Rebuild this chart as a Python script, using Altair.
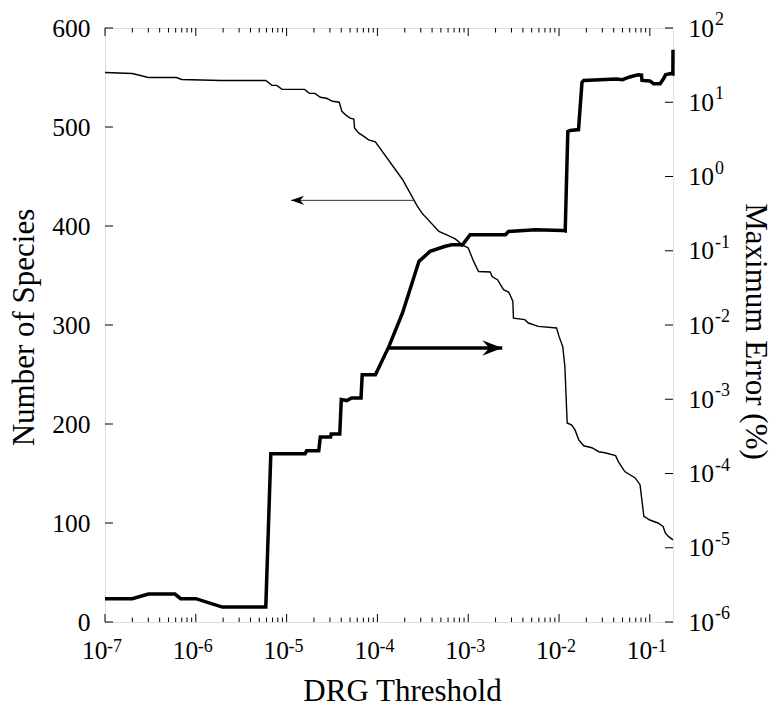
import altair as alt
import pandas as pd

# ---------------- data ----------------
species_x = [1e-7, 2e-7, 3e-7, 6.1e-7, 7e-7, 1.9e-6, 5.9e-6, 6.9e-6, 7.8e-6, 8.9e-6,
             1.58e-5, 1.78e-5, 2.05e-5, 2.35e-5, 2.75e-5, 3.2e-5, 3.8e-5, 4.06e-5, 4.5e-5,
             5.0e-5, 5.5e-5, 5.6e-5, 6.2e-5, 7.1e-5, 8.0e-5, 9.5e-5, 1.89e-4, 2.75e-4,
             3.1e-4, 4.76e-4, 5.8e-4, 7.2e-4, 8.6e-4, 1.0e-3, 1.15e-3, 1.3e-3, 1.75e-3,
             1.83e-3, 2.1e-3, 2.45e-3, 2.8e-3, 3.1e-3, 3.15e-3, 4.2e-3, 4.6e-3, 5.9e-3,
             9.4e-3, 1.0e-2, 1.1e-2, 1.16e-2, 1.23e-2, 1.38e-2, 1.5e-2, 1.65e-2, 1.87e-2,
             2.3e-2, 2.74e-2, 3.2e-2, 4.2e-2, 4.5e-2, 5.3e-2, 6.9e-2, 7.8e-2, 8.6e-2,
             1.0e-1, 1.23e-1, 1.4e-1, 1.48e-1, 1.6e-1, 0.18]
species_n = [555, 554, 550, 550, 548, 547, 547, 542, 542, 538,
             538, 534, 534, 530, 529, 526, 525, 515.8, 512,
             509, 508, 499, 494, 490.5, 487, 485, 447, 420,
             413, 394.5, 391, 387, 381, 377.8, 364, 354, 353.5,
             349, 345.8, 335.7, 333, 324, 307, 305.4, 302, 298.6,
             297, 288.5, 278, 258, 201, 199, 194, 184, 178,
             176, 172, 171, 168, 162, 152, 145.5, 138.7, 106.7,
             103, 100, 96.5, 90, 86.5, 83]

error_x = [1e-7, 2e-7, 3e-7, 5.9e-7, 6.8e-7, 1.0e-6, 1.96e-6, 5.9e-6, 6.7e-6, 1.6e-5,
           1.66e-5, 2.26e-5, 2.35e-5, 3.05e-5, 3.1e-5, 3.85e-5, 4.0e-5, 4.6e-5, 5.2e-5,
           6.6e-5, 6.8e-5, 9.5e-5, 1.34e-4, 1.89e-4, 2.87e-4, 3.8e-4, 5.6e-4, 6.6e-4,
           8.2e-4, 8.6e-4, 1.05e-3, 2.57e-3, 2.78e-3, 5.5e-3, 1.09e-2, 1.17e-2, 1.25e-2,
           1.33e-2, 1.64e-2, 1.79e-2, 1.87e-2, 4.3e-2, 5.0e-2, 6.0e-2, 7.4e-2, 8.1e-2,
           8.2e-2, 1.0e-1, 1.1e-1, 1.3e-1, 1.43e-1, 1.49e-1, 1.69e-1, 0.1795, 0.18]
error_pct = [2.06e-6, 2.06e-6, 2.38e-6, 2.38e-6, 2.06e-6, 2.06e-6, 1.59e-6, 1.59e-6, 1.85e-4, 1.85e-4,
             2.03e-4, 2.03e-4, 3.1e-4, 3.1e-4, 3.4e-4, 3.4e-4, 9.9e-4, 9.6e-4, 1.04e-3,
             1.04e-3, 2.14e-3, 2.14e-3, 5.15e-3, 1.45e-2, 7.2e-2, 9.8e-2, 0.115, 0.12,
             0.12, 0.119, 0.164, 0.164, 0.182, 0.192, 0.188, 0.185, 4.05,
             4.17, 4.28, 18.5, 19.7, 20.6, 20.1, 21.9, 23.5, 23.2,
             19.7, 19.4, 17.8, 17.8, 21.2, 23.5, 24.3, 24.0, 51]

# arrows (data coordinates: x threshold, y in species units)
thin_arrow_from, thin_arrow_to, thin_arrow_y = 2.53e-4, 1.12e-5, 425.9
thick_arrow_from, thick_arrow_to, thick_arrow_y = 1.29e-4, 2.37e-3, 276.8

# ticks and tick labels
x_major = [1e-7, 1e-6, 1e-5, 1e-4, 1e-3, 1e-2, 1e-1]
x_major_exp = ["-7", "-6", "-5", "-4", "-3", "-2", "-1"]
x_minor = [m * d for d in x_major for m in range(2, 10) if m * d <= 0.18]
y_left_ticks = [0, 100, 200, 300, 400, 500, 600]
y_right_ticks = [1e-6, 1e-5, 1e-4, 1e-3, 1e-2, 1e-1, 1e0, 1e1, 1e2]
y_right_exp = ["-6", "-5", "-4", "-3", "-2", "-1", "0", "1", "2"]

# ---------------- layout / style ----------------
W, H = 568, 594
FONT = "Liberation Serif"
TICK_FS, EXP_FS, TITLE_FS = 25.5, 18, 31
MAJ, MIN = 8, 4.5

xscale = alt.Scale(type="log", domain=[1e-7, 0.18], nice=False)
yscale_n = alt.Scale(domain=[0, 600], nice=False, zero=False)
yscale_e = alt.Scale(type="log", domain=[1e-6, 1e2], nice=False)

common = dict(ticks=False, domain=False, grid=False, labelFont=FONT, labelFontSize=TICK_FS,
              labelColor="black", titleColor="black", labelOverlap=False, labelFlush=False,
              titleFont=FONT, titleFontSize=TITLE_FS, titleFontWeight="normal",
              titleBaseline="alphabetic", titleAlign="center")
xaxis = alt.Axis(title="DRG Threshold", values=x_major, labelExpr="'10'", labelAlign="right",
                 labelOffset=2, labelPadding=16, titleX=W / 2 + 13, titleY=78, **common)
ylaxis = alt.Axis(title="Number of Species", values=y_left_ticks, format="d", labelPadding=15,
                  titleAngle=-90, titleX=-72, titleY=H / 2 + 2, **common)
yraxis = alt.Axis(title="Maximum Error (%)", orient="right", values=y_right_ticks,
                  labelExpr="'10'", labelPadding=15, titleAngle=90, titleX=72, titleY=H / 2 + 6,
                  **common)

df_species = pd.DataFrame({"x": species_x, "n": species_n, "i": range(len(species_x))})
df_error = pd.DataFrame({"x": error_x, "e": error_pct, "i": range(len(error_x))})
df_xmaj = pd.DataFrame({"x": x_major, "exp": x_major_exp})
df_xmin = pd.DataFrame({"x": x_minor})
df_yl = pd.DataFrame({"y": y_left_ticks})
df_yr = pd.DataFrame({"y": y_right_ticks, "exp": y_right_exp})


def X(f="x"):
    return alt.X(f"{f}:Q", scale=xscale, axis=xaxis)


def YN(f="y"):
    return alt.Y(f"{f}:Q", scale=yscale_n, axis=ylaxis)


def YE(f="y"):
    return alt.Y(f"{f}:Q", scale=yscale_e, axis=yraxis)


rule = dict(color="black", strokeWidth=1)

# --- species (left axis) group ---
species_line = alt.Chart(df_species).mark_line(color="black", strokeWidth=1.4).encode(
    x=X(), y=YN("n"), order="i:Q")

xt_bot_maj = alt.Chart(df_xmaj).mark_rule(**rule).encode(x=X(), y=alt.value(H), y2=alt.value(H - MAJ))
xt_top_maj = alt.Chart(df_xmaj).mark_rule(**rule).encode(x=X(), y=alt.value(0), y2=alt.value(MAJ))
xt_bot_min = alt.Chart(df_xmin).mark_rule(**rule).encode(x=X(), y=alt.value(H), y2=alt.value(H - MIN))
xt_top_min = alt.Chart(df_xmin).mark_rule(**rule).encode(x=X(), y=alt.value(0), y2=alt.value(MIN))
yl_ticks = alt.Chart(df_yl).mark_rule(**rule).encode(y=YN(), x=alt.value(0), x2=alt.value(MAJ))

x_exp = alt.Chart(df_xmaj).mark_text(font=FONT, fontSize=EXP_FS, align="left",
                                     baseline="alphabetic", dx=2, color="black").encode(
    x=X(), y=alt.value(H + 30), text="exp:N")

thin_arrow = alt.Chart(pd.DataFrame({"x": [thin_arrow_from], "x2": [thin_arrow_to],
                                     "y": [thin_arrow_y]}))
thin_line = thin_arrow.mark_rule(color="#333333", strokeWidth=1).encode(x=X(), x2="x2:Q", y=YN())
thin_head = thin_arrow.mark_point(shape="M0,0 L2,-0.7 L1.4,0 L2,0.7 Z", filled=True, size=169,
                                  color="black", opacity=1, strokeWidth=0).encode(x=X("x2"), y=YN())

thick_arrow = alt.Chart(pd.DataFrame({"x": [thick_arrow_from], "x2": [thick_arrow_to],
                                      "y": [thick_arrow_y]}))
thick_line = thick_arrow.mark_rule(color="black", strokeWidth=3.5).encode(x=X(), x2="x2:Q", y=YN())
thick_head = thick_arrow.mark_point(shape="M0,0 L-2,-0.77 L-1.3,0 L-2,0.77 Z", filled=True,
                                    size=400, color="black", opacity=1, strokeWidth=0).encode(
    x=X("x2"), y=YN())

species_group = alt.layer(xt_bot_maj, xt_top_maj, xt_bot_min, xt_top_min, yl_ticks, x_exp,
                          species_line, thin_line, thin_head, thick_line, thick_head)

# --- error (right axis) group ---
error_line = alt.Chart(df_error).mark_line(color="black", strokeWidth=3.5).encode(
    x=X(), y=YE("e"), order="i:Q")
yr_ticks = alt.Chart(df_yr).mark_rule(**rule).encode(y=YE(), x=alt.value(W - MAJ), x2=alt.value(W))
yr_exp = alt.Chart(df_yr).mark_text(font=FONT, fontSize=EXP_FS, align="left",
                                    baseline="alphabetic", dy=-3, color="black").encode(
    y=YE(), x=alt.value(W + 42), text="exp:N")

error_group = alt.layer(yr_ticks, yr_exp, error_line)

chart = alt.layer(species_group, error_group).resolve_scale(y="independent").properties(
    width=W, height=H,
    autosize=alt.AutoSizeParams(type="none"),
    padding={"left": 105, "top": 28, "right": 776 - 105 - W, "bottom": 706 - 28 - H},
).configure_view(stroke="black", strokeWidth=1).configure(background="white")

chart.save("out.html", embed_options={"renderer": "svg", "actions": False})
